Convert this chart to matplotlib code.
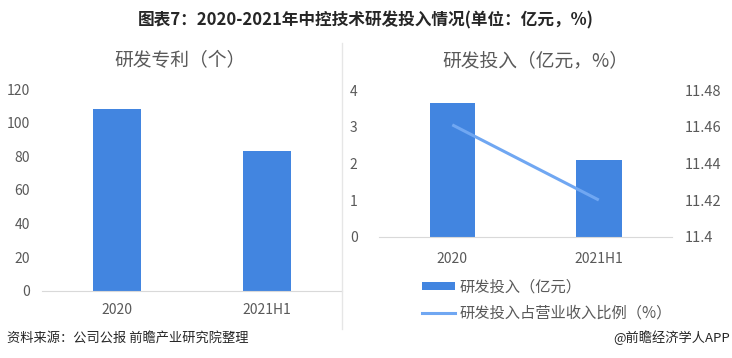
import matplotlib
matplotlib.use("Agg")
import matplotlib.pyplot as plt
from matplotlib.lines import Line2D
from matplotlib.patches import Patch

plt.rcParams['font.family'] = ['Noto Sans CJK SC', 'DejaVu Sans']

categories = ['2020', '2021H1']
patents = [108, 83]
rd_invest = [3.65, 2.09]
rd_ratio = [11.461, 11.42]

left_yticks = [0, 20, 40, 60, 80, 100, 120]
right_yticks = [0, 1, 2, 3, 4]
ratio_ticks = [11.40, 11.42, 11.44, 11.46, 11.48]
ratio_labels = ['11.4', '11.42', '11.44', '11.46', '11.48']

bar_color = '#4285E0'
line_color = '#70A7F2'
text_color = '#595959'
axis_color = '#D9D9D9'

fig = plt.figure(figsize=(7.32, 3.58), dpi=100)
fig.patch.set_facecolor('white')

fig.text(0.5, 0.944, '图表7：2020-2021年中控技术研发投入情况(单位：亿元，%)',
         ha='center', va='center', fontsize=12, fontweight='bold', color='#262626')

# Left chart
ax1 = fig.add_axes([0.058, 0.188, 0.409, 0.5626])
x = list(range(len(categories)))
ax1.bar(x, patents, width=0.32, color=bar_color)
ax1.set_xlim(-0.5, 1.5)
ax1.set_ylim(0, 120)
ax1.set_yticks(left_yticks)
ax1.set_xticks(x)
ax1.set_xticklabels(categories)
for s in ['top', 'right', 'left']:
    ax1.spines[s].set_visible(False)
ax1.spines['bottom'].set_color(axis_color)
ax1.tick_params(axis='both', length=0, colors=text_color, labelsize=10)
ax1.tick_params(axis='y', pad=9)
ax1.tick_params(axis='x', pad=9)
fig.text(0.246, 0.83, '研发专利（个）', ha='center', va='center', fontsize=13.5, color=text_color)

# separator
fig.add_artist(Line2D([0.467, 0.467], [0.08, 0.88], color='#E6E6E6', lw=1, transform=fig.transFigure))

# Right chart
ax2 = fig.add_axes([0.5178, 0.3388, 0.4003, 0.4098])
ax2.bar(x, rd_invest, width=0.31, color=bar_color)
ax2.set_xlim(-0.5, 1.5)
ax2.set_ylim(0, 4)
ax2.set_yticks(right_yticks)
ax2.set_xticks(x)
ax2.set_xticklabels(categories)
for s in ['top', 'right', 'left']:
    ax2.spines[s].set_visible(False)
ax2.spines['bottom'].set_color(axis_color)
ax2.tick_params(axis='both', length=0, colors=text_color, labelsize=10)
ax2.tick_params(axis='y', pad=21)
ax2.tick_params(axis='x', pad=11)
for lbl in ax2.get_yticklabels():
    lbl.set_horizontalalignment('left')

ax3 = ax2.twinx()
ax3.plot(x, rd_ratio, color=line_color, lw=2.2, solid_capstyle='butt')
ax3.set_ylim(11.40, 11.48)
ax3.set_yticks(ratio_ticks)
ax3.set_yticklabels(ratio_labels)
for s in ['top', 'right', 'left', 'bottom']:
    ax3.spines[s].set_visible(False)
ax3.tick_params(axis='y', length=0, colors=text_color, labelsize=10.5, pad=9)

fig.text(0.731, 0.83, '研发投入（亿元，%）', ha='center', va='center', fontsize=13.5, color=text_color)

handles = [Patch(facecolor=bar_color, edgecolor='none'),
           Line2D([0], [0], color=line_color, lw=2.2)]
labels = ['研发投入（亿元）', '研发投入占营业收入比例（%）']
fig.legend(handles, labels, loc='upper left', bbox_to_anchor=(0.576, 0.222),
           frameon=False, fontsize=11, labelcolor=text_color,
           handlelength=2.2, handleheight=0.5, handletextpad=0.3, labelspacing=0.62,
           borderaxespad=0, borderpad=0)

fig.text(0.009, 0.056, '资料来源：公司公报 前瞻产业研究院整理', ha='left', va='center', fontsize=9.5, color='#262626')
fig.text(0.997, 0.056, '@前瞻经济学人APP', ha='right', va='center', fontsize=9.5, color='#262626')

fig.savefig('out.png', dpi=100, facecolor='white')
